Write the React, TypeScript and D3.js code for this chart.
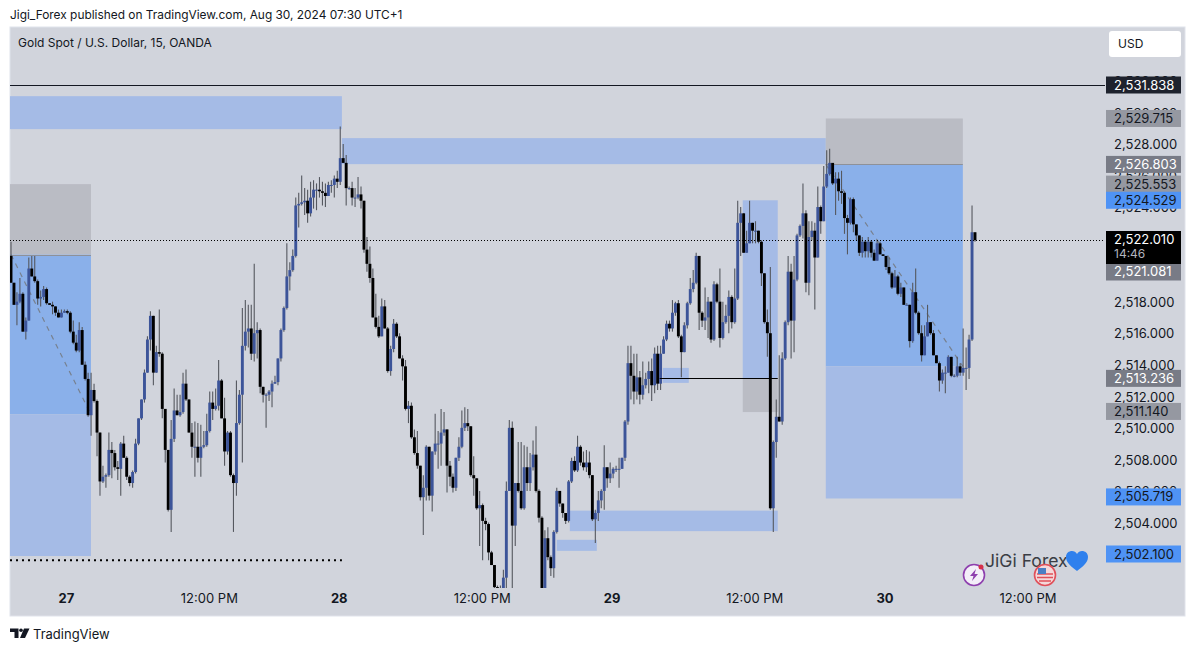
import { useEffect, useRef } from 'react'
import * as d3 from 'd3'

const firstOpen = 2521.0

const closes = [
  2519.3,2517.9,2518.1,2518.6,2516.2,2516.9,2520.2,2519.7,2519.4,2518.3,
  2518.4,2518.9,2518.0,2517.9,2517.8,2517.4,2517.1,2517.4,2517.5,2517.4,
  2516.2,2515.5,2515.0,2516.3,2514.1,2513.2,2510.9,2512.5,2511.8,2509.8,
  2506.7,2507.0,2507.1,2508.7,2508.5,2507.6,2507.5,2509.1,2508.2,2507.0,
  2506.6,2507.3,2509.1,2510.7,2511.9,2513.6,2515.7,2517.2,2513.6,2514.9,
  2514.8,2511.3,2508.7,2504.9,2509.4,2511.2,2510.9,2511.1,2512.9,2511.9,
  2509.8,2508.9,2508.9,2508.2,2508.9,2509.0,2509.9,2511.7,2511.3,2511.5,
  2513.1,2510.7,2508.6,2509.8,2507.1,2506.6,2510.4,2512.2,2515.3,2516.2,
  2516.4,2514.8,2516.1,2516.3,2512.7,2512.2,2512.2,2512.4,2512.9,2513.0,
  2514.5,2516.3,2517.7,2519.7,2520.1,2521.0,2524.2,
  2524.3,2524.4,2524.5,2523.7,2524.7,2525.2,2525.2,2525.1,2525.0,2524.8,
  2525.5,2525.5,2525.9,2525.7,2527.2,2526.9,2525.3,2525.3,2524.7,2524.7,
  2524.9,2524.5,2521.4,2520.5,2519.6,2517.1,2516.5,2515.9,2517.8,2516.4,
  2513.7,2515.1,2516.7,2515.9,2514.5,2514.0,2511.3,2511.5,2509.5,2508.5,
  2507.7,2505.7,2506.3,2508.9,2505.8,2508.6,2509.1,2509.1,2509.8,2510.0,
  2507.7,2507.0,2506.3,2508.2,2508.9,2510.1,2510.4,2510.2,2507.1,2506.9,
  2505.0,2505.2,2504.2,2504.0,2502.2,2501.4,2500.0,2499.2,2499.8,2500.6,
  2506.1,2510.1,2503.9,2506.6,2506.1,2505.0,2507.6,2506.6,2507.6,2508.4,
  2506.1,2504.4,2499.7,2503.1,2501.9,2501.2,2503.5,2506.1,2505.3,2504.7,
  2504.2,2506.7,2508.0,2507.4,2508.9,2507.9,2507.6,2507.9,2507.1,2504.3,
  2504.7,2505.5,2506.1,2507.6,2506.9,2507.2,2507.5,2507.5,2507.5,2508.2,
  2510.5,2514.2,2513.4,2512.4,2513.3,2512.2,2512.8,2513.2,2513.7,2512.8,
  2514.8,2512.9,2514.8,2515.7,2516.7,2516.4,2517.4,2518.0,2515.9,2514.9,
  2516.6,2518.0,2518.9,2519.3,2521.0,2517.4,2516.9,2517.1,2518.1,2515.7,
  2519.2,2518.1,2515.8,2516.8,2517.2,2518.4,2516.8,2518.3,2523.1,2523.7,
  2521.2,2521.8,2523.1,2522.6,2522.6,2521.9,2519.9,2516.8,2516.1,2505.0,
  2509.2,2510.8,2510.5,2514.5,2516.8,2520.0,2516.9,2519.5,2522.3,2522.9,
  2523.7,2519.3,2522.2,2522.6,2520.9,2524.1,2523.2,2525.4,2526.2,2526.9,
  2525.6,2525.9,2525.1,2525.0,2523.4,2523.1,2524.6,2523.0,2522.3,2521.2,
  2521.9,2521.3,2521.9,2521.2,2520.7,2521.8,2521.1,2521.0,2520.3,2519.9,
  2519.0,2519.7,2518.6,2519.0,2517.9,2517.9,2515.6,2518.7,2517.4,2516.1,
  2514.7,2515.9,2516.8,2516.1,2514.7,2514.2,2513.1,2513.6,2513.6,2514.6,
  2513.4,2513.4,2514.0,2513.6,2513.9,2513.9,2515.7,2522.5,2522.0,
]

const highs = [
  2521.9,2519.3,2518.7,2519.6,2518.7,2517.1,2520.9,2521.0,2521.0,2519.5,
  2518.8,2519.1,2519.0,2518.0,2518.1,2517.8,2517.6,2517.6,2517.6,2517.6,
  2517.5,2516.9,2516.0,2516.8,2516.5,2514.3,2513.6,2513.6,2512.9,2511.9,
  2509.8,2507.7,2507.2,2509.8,2509.2,2508.7,2508.0,2509.2,2509.6,2508.3,
  2507.1,2507.4,2509.4,2510.7,2511.9,2513.8,2515.9,2517.5,2517.2,2515.3,
  2517.6,2514.9,2511.3,2508.7,2510.6,2512.6,2512.2,2512.2,2513.6,2513.8,
  2511.9,2510.4,2510.5,2510.4,2510.3,2509.9,2511.0,2512.4,2512.4,2512.6,
  2514.4,2513.2,2512.0,2509.9,2509.9,2507.2,2513.1,2512.5,2517.7,2518.2,
  2517.9,2517.9,2520.5,2516.8,2516.4,2512.7,2512.3,2512.5,2513.1,2513.4,
  2514.5,2516.4,2517.8,2521.8,2520.6,2521.4,2524.7,
  2525.0,2526.1,2525.3,2525.2,2525.7,2525.8,2525.6,2526.0,2525.7,2525.6,
  2525.7,2525.8,2526.1,2526.4,2529.2,2528.1,2527.4,2525.4,2525.7,2525.3,
  2526.0,2525.4,2524.5,2522.2,2521.6,2520.2,2518.6,2517.2,2518.3,2518.2,
  2516.5,2515.3,2517.0,2516.8,2516.1,2514.7,2514.4,2511.8,2511.7,2510.0,
  2509.9,2507.7,2507.1,2509.0,2508.9,2508.6,2511.0,2509.9,2511.3,2511.1,
  2510.0,2508.0,2507.2,2508.2,2509.5,2511.2,2511.4,2511.3,2510.2,2508.3,
  2506.9,2506.1,2505.3,2504.4,2504.1,2502.3,2501.4,2500.1,2500.1,2501.1,
  2506.7,2510.6,2510.5,2506.6,2509.2,2509.2,2509.0,2508.9,2508.5,2509.3,
  2510.2,2506.2,2504.5,2503.6,2503.8,2502.0,2503.6,2506.3,2506.1,2505.3,
  2504.7,2506.8,2508.2,2508.3,2509.6,2509.0,2508.6,2508.7,2508.6,2507.1,
  2504.9,2506.1,2506.2,2509.0,2507.6,2507.9,2507.6,2507.7,2508.2,2508.2,
  2510.6,2515.3,2515.3,2514.8,2514.8,2513.7,2514.3,2513.6,2514.3,2514.5,
  2515.2,2515.3,2515.3,2515.9,2516.9,2516.9,2518.2,2518.1,2518.2,2516.0,
  2516.8,2518.1,2519.6,2520.1,2521.2,2521.0,2517.5,2519.0,2518.4,2518.1,
  2519.4,2519.3,2520.2,2518.1,2517.9,2518.8,2518.5,2520.2,2524.5,2524.1,
  2523.7,2522.6,2524.5,2523.1,2523.2,2522.6,2522.0,2519.9,2517.6,2520.3,
  2509.3,2511.9,2514.7,2514.9,2516.9,2521.0,2520.5,2521.0,2522.4,2523.0,
  2525.6,2523.9,2523.2,2523.2,2523.1,2525.4,2524.2,2526.7,2527.7,2527.8,
  2526.9,2526.3,2526.3,2526.4,2525.1,2523.6,2524.7,2524.7,2523.0,2522.3,
  2522.2,2522.0,2522.2,2522.0,2521.4,2522.0,2521.9,2521.1,2521.0,2520.9,
  2520.0,2520.1,2519.8,2519.3,2519.0,2518.0,2517.9,2519.3,2520.2,2517.5,
  2516.6,2516.6,2517.9,2516.8,2516.3,2514.7,2514.3,2513.8,2514.0,2514.7,
  2514.6,2513.5,2514.6,2514.2,2516.4,2515.2,2516.0,2524.2,2522.5,
]

const lows = [
  2519.3,2517.9,2516.6,2518.0,2516.2,2515.7,2516.9,2519.7,2519.3,2517.9,
  2517.8,2518.2,2517.9,2517.9,2517.3,2517.2,2517.1,2517.1,2517.4,2517.3,
  2516.1,2515.4,2514.9,2514.9,2514.1,2513.1,2510.8,2509.6,2511.7,2508.3,
  2505.8,2506.6,2506.3,2507.0,2506.9,2507.4,2506.8,2505.8,2508.2,2506.8,
  2506.4,2506.3,2507.2,2509.0,2510.6,2511.7,2513.6,2515.0,2512.8,2513.6,
  2514.6,2510.7,2507.9,2504.8,2503.5,2509.2,2510.9,2510.8,2511.0,2511.8,
  2509.8,2508.2,2507.0,2507.9,2507.0,2508.8,2508.9,2509.8,2510.6,2511.2,
  2511.2,2510.7,2507.7,2508.4,2507.0,2503.5,2505.8,2510.3,2507.9,2515.0,
  2515.2,2514.4,2514.3,2514.5,2512.3,2511.7,2510.1,2511.8,2511.4,2512.9,
  2512.8,2514.3,2516.2,2517.6,2518.8,2520.0,2520.9,
  2522.8,2524.2,2523.6,2523.1,2523.5,2524.0,2523.9,2524.7,2524.2,2524.1,
  2525.1,2525.0,2524.7,2525.3,2525.5,2526.9,2524.2,2525.2,2524.2,2524.1,
  2524.6,2524.0,2521.2,2520.0,2519.3,2517.1,2516.4,2515.8,2515.9,2516.4,
  2513.6,2513.4,2514.9,2515.8,2514.5,2513.1,2511.2,2510.4,2509.4,2508.4,
  2507.5,2505.5,2503.3,2505.5,2505.5,2504.8,2508.4,2507.5,2507.7,2509.6,
  2506.0,2506.4,2506.0,2506.1,2508.0,2508.8,2509.9,2509.9,2507.0,2505.8,
  2504.9,2502.6,2501.7,2503.6,2501.7,2501.4,2499.8,2498.5,2498.8,2499.2,
  2499.8,2506.1,2499.8,2502.6,2506.0,2504.9,2504.9,2506.1,2506.1,2507.4,
  2506.0,2504.1,2499.2,2499.8,2501.7,2500.7,2500.6,2503.4,2505.1,2504.4,
  2504.0,2504.1,2506.6,2507.3,2507.3,2507.7,2507.4,2507.3,2506.9,2504.2,
  2502.8,2504.2,2505.0,2504.9,2506.3,2506.6,2506.9,2507.3,2506.3,2507.5,
  2508.0,2510.3,2511.9,2511.6,2511.9,2511.6,2511.9,2512.6,2512.3,2511.8,
  2512.3,2512.5,2512.5,2514.8,2515.6,2516.2,2516.2,2517.2,2515.8,2513.3,
  2514.9,2516.4,2517.9,2518.7,2519.2,2516.3,2516.5,2516.3,2515.8,2515.5,
  2515.6,2518.0,2515.2,2515.7,2516.7,2516.1,2516.4,2516.7,2518.2,2521.0,
  2521.2,2521.2,2521.8,2521.8,2521.8,2521.8,2519.1,2516.7,2514.6,2504.9,
  2503.5,2508.2,2510.5,2510.3,2514.4,2516.6,2514.5,2514.9,2519.4,2522.2,
  2522.1,2518.7,2518.5,2522.0,2517.6,2520.9,2522.4,2523.2,2525.3,2526.1,
  2525.5,2523.6,2524.5,2524.3,2522.4,2521.1,2523.0,2522.5,2522.0,2521.0,
  2520.9,2520.9,2520.9,2520.9,2520.7,2521.2,2521.1,2521.0,2520.1,2519.8,
  2518.9,2519.0,2518.5,2518.4,2517.9,2517.9,2515.2,2515.5,2517.3,2516.0,
  2514.3,2514.7,2515.9,2516.0,2514.7,2514.2,2512.4,2512.9,2512.3,2513.6,
  2513.3,2513.3,2513.3,2513.4,2513.4,2512.5,2513.2,2515.6,2521.9,
]

// 2,522 / 2,520 / 2,502 sit fully behind tags in the reference
const priceTicks = [2532, 2530, 2528, 2526, 2524, 2518, 2516, 2514, 2512, 2510, 2508, 2506, 2504]

const timeTicks = [18.5, 66.7, 110.5, 158.7, 202.5, 250.6, 294.5, 342.7]
const timeLabels = ['27', '12:00 PM', '28', '12:00 PM', '29', '12:00 PM', '30', '12:00 PM']

// boxes in bar index / price, kind picks the colour
const boxes = [
  { from: -0.34, to: 111.56, top: 2531.13, bottom: 2529.04, kind: 'band' },
  { from: 111.56, to: 274.7, top: 2528.47, bottom: 2526.82, kind: 'band' },
  { from: -0.34, to: 26.96, top: 2525.553, bottom: 2521.081, kind: 'stop' },
  { from: -0.34, to: 26.96, top: 2521.081, bottom: 2510.95, kind: 'hold' },
  { from: -0.34, to: 26.96, top: 2510.95, bottom: 2501.97, kind: 'band' },
  { from: 274.7, to: 320.9, top: 2529.715, bottom: 2526.803, kind: 'stop' },
  { from: 274.7, to: 320.9, top: 2526.803, bottom: 2514.0, kind: 'hold' },
  { from: 274.7, to: 320.9, top: 2514.0, bottom: 2505.62, kind: 'band' },
  { from: 246.7, to: 258.5, top: 2524.529, bottom: 2513.236, kind: 'band' },
  { from: 246.7, to: 258.5, top: 2513.236, bottom: 2511.1, kind: 'stop' },
  { from: 219.75, to: 228.5, top: 2513.9, bottom: 2512.95, kind: 'band' },
  { from: 188.4, to: 258.5, top: 2504.85, bottom: 2503.55, kind: 'band' },
  { from: 184, to: 197.5, top: 2503.0, bottom: 2502.3, kind: 'band' },
]

const dashedTrends = [
  { from: 0, to: 26.96, start: 2521.081, end: 2510.95 },
  { from: 274.7, to: 320.9, start: 2526.803, end: 2514.0 },
]

const priceLabels = [
  { value: 2531.838, kind: 'dark' },
  { value: 2529.715, kind: 'lightGrey' },
  { value: 2526.803, kind: 'grey' },
  { value: 2525.553, kind: 'lightGrey' },
  { value: 2524.529, kind: 'blue' },
  { value: 2521.081, kind: 'grey' },
  { value: 2513.236, kind: 'grey' },
  { value: 2511.14, kind: 'lightGrey' },
  { value: 2505.719, kind: 'blue' },
  { value: 2502.1, kind: 'blue' },
]

const lastPrice = 2522.01
const lastCountdown = '14:46'
const topLevel = 2531.838
const lowLevel = 2501.7
const entryLine = { from: 218.7, to: 258.5, price: 2513.236 }

const boxFill: Record<string, string> = { band: '#a5bbe6', stop: '#babcc4', hold: '#8ab0ea' }
const labelFill: Record<string, string> = { dark: '#1e222d', lightGrey: '#9598a1', grey: '#787b86', blue: '#4f93f5' }
const labelText: Record<string, string> = { dark: '#fff', lightGrey: '#131722', grey: '#fff', blue: '#131722' }

const FONT = 'Inter, "Noto Sans", sans-serif'

export default function App() {
  const svgRef = useRef<SVGSVGElement>(null)

  useEffect(() => {
    if (!svgRef.current) return
    const width = 1195
    const height = 651
    const pane = { left: 10, top: 27, right: 1185, bottom: 616 }
    const plotRight = 1105
    const plotBottom = 588

    const svg = d3.select(svgRef.current)
    svg.selectAll('*').remove()
    svg.attr('width', width).attr('height', height).attr('font-family', FONT)

    svg.append('rect').attr('width', width).attr('height', height).attr('fill', '#fff')
    svg.append('rect').attr('x', pane.left).attr('y', pane.top)
      .attr('width', pane.right - pane.left).attr('height', pane.bottom - pane.top)
      .attr('fill', '#d1d4dc').attr('stroke', '#e0e3eb').attr('stroke-width', 1)

    svg.append('clipPath').attr('id', 'plot-clip').append('rect')
      .attr('x', pane.left).attr('y', pane.top)
      .attr('width', plotRight - pane.left).attr('height', plotBottom - pane.top)

    const x = d3.scaleLinear().domain([0, closes.length - 1]).range([11, 975])
    const y = d3.scaleLinear().domain([2531.838, 2502.1]).range([85, 554])
    const crisp = (v: number) => Math.round(v) + 0.5

    const plot = svg.append('g').attr('clip-path', 'url(#plot-clip)')

    // boxes
    plot.append('g').selectAll('rect').data(boxes).enter().append('rect')
      .attr('x', d => x(d.from)).attr('width', d => x(d.to) - x(d.from))
      .attr('y', d => y(d.top)).attr('height', d => y(d.bottom) - y(d.top))
      .attr('fill', d => boxFill[d.kind])

    // stop / hold divider on the two position boxes
    plot.append('g').selectAll('line').data(boxes.filter(d => d.kind === 'hold')).enter().append('line')
      .attr('x1', d => x(d.from)).attr('x2', d => x(d.to))
      .attr('y1', d => crisp(y(d.top))).attr('y2', d => crisp(y(d.top)))
      .attr('stroke', '#8e9199').attr('stroke-width', 1)

    // dashed trend lines
    plot.append('g').selectAll('line').data(dashedTrends).enter().append('line')
      .attr('x1', d => x(d.from)).attr('x2', d => x(d.to))
      .attr('y1', d => y(d.start)).attr('y2', d => y(d.end))
      .attr('stroke', '#77808f').attr('stroke-width', 1.2).attr('stroke-dasharray', '5 5')

    // candles
    const candles = closes.map((close, i) => ({
      i, close, high: highs[i], low: lows[i], open: i === 0 ? firstOpen : closes[i - 1],
    }))
    const g = plot.append('g')
    g.selectAll('line').data(candles).enter().append('line')
      .attr('x1', d => x(d.i)).attr('x2', d => x(d.i))
      .attr('y1', d => y(Math.max(d.high, d.open, d.close))).attr('y2', d => y(Math.min(d.low, d.open, d.close)))
      .attr('stroke', '#55585f').attr('stroke-width', 1.1)
    g.selectAll('rect').data(candles).enter().append('rect')
      .attr('x', d => x(d.i) - 1.45).attr('width', 2.9)
      .attr('y', d => y(Math.max(d.open, d.close)))
      .attr('height', d => Math.max(1, Math.abs(y(d.open) - y(d.close))))
      .attr('fill', d => d.close >= d.open ? '#3c5499' : '#000')

    // level lines
    plot.append('line').attr('x1', pane.left).attr('x2', plotRight + 1)
      .attr('y1', crisp(y(topLevel))).attr('y2', crisp(y(topLevel))).attr('stroke', '#131722').attr('stroke-width', 1)
    plot.append('line').attr('x1', x(entryLine.from)).attr('x2', x(entryLine.to))
      .attr('y1', crisp(y(entryLine.price))).attr('y2', crisp(y(entryLine.price))).attr('stroke', '#000').attr('stroke-width', 1)
    plot.append('line').attr('x1', pane.left).attr('x2', plotRight + 1)
      .attr('y1', crisp(y(lastPrice))).attr('y2', crisp(y(lastPrice))).attr('stroke', '#000').attr('stroke-width', 1).attr('stroke-dasharray', '1 2')
    plot.append('line').attr('x1', pane.left).attr('x2', x(111.56))
      .attr('y1', y(lowLevel)).attr('y2', y(lowLevel)).attr('stroke', '#000').attr('stroke-width', 2).attr('stroke-dasharray', '2 4')

    // price axis
    svg.append('g').attr('transform', 'translate(1114,-1)')
      .call(d3.axisRight(y).tickValues(priceTicks).tickSize(0).tickPadding(0).tickFormat(d => d3.format(',.3f')(d as number)))
      .call(ax => {
        ax.select('.domain').remove()
        ax.selectAll('.tick text').attr('fill', '#131722').attr('font-size', 13).attr('font-family', FONT)
      })

    // time axis
    svg.append('g').attr('transform', 'translate(0,594)')
      .call(d3.axisBottom(x).tickValues(timeTicks).tickSize(0).tickPadding(0)
        .tickFormat((_, i) => timeLabels[i]))
      .call(ax => {
        ax.select('.domain').remove()
        ax.selectAll('.tick text').attr('fill', '#131722').attr('font-size', 13).attr('font-family', FONT)
          .attr('font-weight', (_, i) => i % 2 === 0 ? 700 : 400)
      })

    // last price tag with countdown, labels it would cover get pushed below it
    const tagTop = y(lastPrice) - 9
    const tagBottom = tagTop + 33
    const fmt = d3.format(',.3f')
    const labelH = 17
    const labelTop = (value: number) => {
      const top = y(value) - labelH / 2
      return top > tagTop && top < tagBottom ? tagBottom - 0.5 : top
    }
    const lab = svg.append('g').selectAll('g').data(priceLabels).enter().append('g')
      .attr('transform', d => `translate(1106,${labelTop(d.value)})`)
    lab.append('rect').attr('width', 75).attr('height', labelH).attr('fill', d => labelFill[d.kind])
    lab.append('text').attr('x', 8).attr('y', labelH / 2 + 4.5).attr('font-size', 13)
      .attr('fill', d => labelText[d.kind]).text(d => fmt(d.value))

    const tag = svg.append('g').attr('transform', `translate(1106,${tagTop})`)
    tag.append('rect').attr('width', 75).attr('height', 33).attr('fill', '#000')
    tag.append('text').attr('x', 8).attr('y', 13.5).attr('font-size', 13).attr('fill', '#fff').text(fmt(lastPrice))
    tag.append('text').attr('x', 8).attr('y', 27.5).attr('font-size', 12).attr('fill', '#b2b5be').text(lastCountdown)

    // currency button
    svg.append('rect').attr('x', 1109).attr('y', 31).attr('width', 72).attr('height', 26).attr('rx', 3).attr('fill', '#fff')
    svg.append('text').attr('x', 1118).attr('y', 48).attr('font-size', 12).attr('fill', '#131722').text('USD')

    // header and footer text
    svg.append('text').attr('x', 10).attr('y', 19).attr('font-size', 11.9).attr('fill', '#131722')
      .text('Jigi_Forex published on TradingView.com, Aug 30, 2024 07:30 UTC+1')
    svg.append('text').attr('x', 18).attr('y', 47).attr('font-size', 12).attr('fill', '#131722')
      .text('Gold Spot / U.S. Dollar, 15, OANDA')
    svg.append('text').attr('x', 33).attr('y', 639).attr('font-size', 13).attr('fill', '#131722').text('TradingView')

    // tradingview mark
    const logo = svg.append('g').attr('fill', '#131722')
    logo.append('path').attr('d', 'M10 628.5h8.5v9.5h-4v-6h-4.5z')
    logo.append('circle').attr('cx', 21).attr('cy', 630.3).attr('r', 1.8)
    logo.append('path').attr('d', 'M24 628.5h5.5L25 638h-5z')

    // watermark
    svg.append('text').attr('x', 985).attr('y', 567).attr('font-size', 17.6).attr('fill', '#3a3d45').text('JiGi Forex')
    svg.append('path').attr('transform', 'translate(1077,561)')
      .attr('d', 'M0 10C-5 6 -11 2 -11 -4C-11 -8 -8 -10 -5 -10C-3 -10 -1 -9 0 -7C1 -9 3 -10 5 -10C8 -10 11 -8 11 -4C11 2 5 6 0 10Z')
      .attr('fill', '#2f80ed')

    // event icons
    const bolt = svg.append('g').attr('transform', 'translate(974,575)')
    bolt.append('circle').attr('r', 10.5).attr('fill', '#f3eef8').attr('stroke', '#8e3fae').attr('stroke-width', 1.6)
    bolt.append('path').attr('d', 'M2 -6L-4 1H-0.5L-2 6L4 -1H0.5Z').attr('fill', '#8e3fae')
    bolt.append('circle').attr('cx', 7).attr('cy', -8).attr('r', 2.5).attr('fill', '#d6304a')
    const flag = svg.append('g').attr('transform', 'translate(1045,575)')
    flag.append('circle').attr('r', 10.5).attr('fill', '#f4d8da').attr('stroke', '#e0505a').attr('stroke-width', 1.6)
    flag.append('path').attr('d', 'M-8 -1H8M-8 2.5H8M-6 6H6').attr('stroke', '#e0505a').attr('stroke-width', 1.7)
    flag.append('rect').attr('x', -7).attr('y', -7).attr('width', 8).attr('height', 6).attr('fill', '#4a7fc4')
  }, [])

  return <svg ref={svgRef} style={{ position: 'absolute', left: 0, top: 0, display: 'block' }} />
}
